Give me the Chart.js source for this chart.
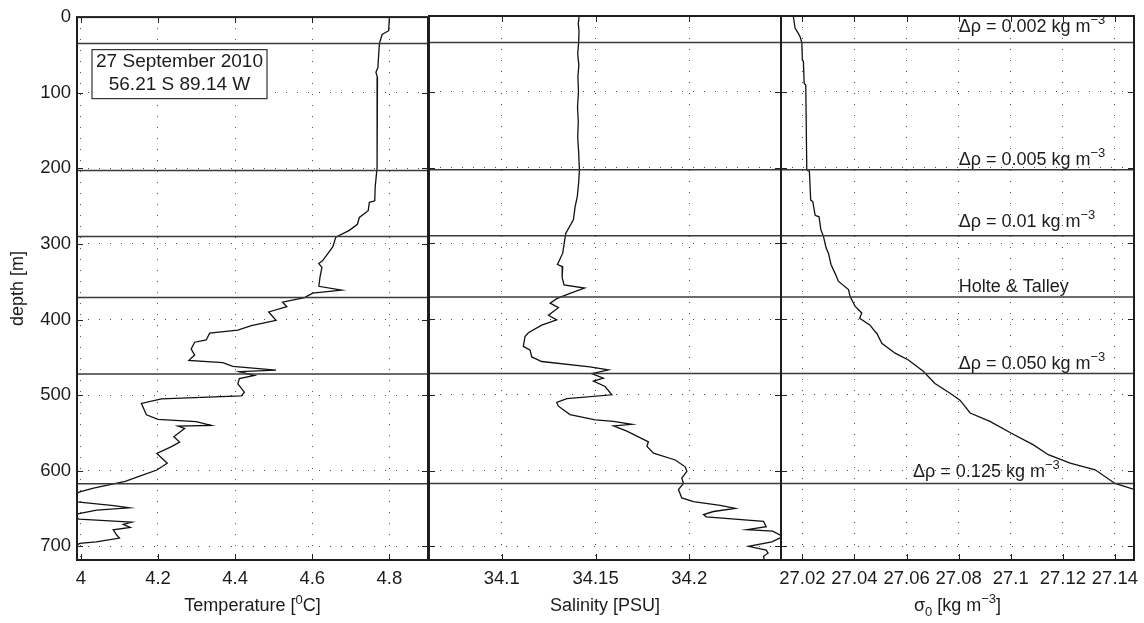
<!DOCTYPE html>
<html>
<head>
<meta charset="utf-8">
<script src="https://cdn.jsdelivr.net/npm/chart.js@4.4.1/dist/chart.umd.min.js"></script>
<style>
  html, body { margin: 0; padding: 0; background: #fff; }
  #wrap { position: relative; width: 1144px; height: 623px; overflow: hidden; }
  canvas { position: absolute; top: 0; }
</style>
</head>
<body>
<div id="wrap">
  <canvas id="tempChart" width="430" height="623" style="left:0px"></canvas>
  <canvas id="salChart" width="384" height="623" style="left:413px"></canvas>
  <canvas id="sigmaChart" width="407" height="623" style="left:757px"></canvas>
</div>
<script>
// ---- data ----
const depthTicks = [0, 100, 200, 300, 400, 500, 600, 700];
const tempTicks = [4, 4.2, 4.4, 4.6, 4.8];
const salTicks = [34.1, 34.15, 34.2];
const sigmaTicks = [27.02, 27.04, 27.06, 27.08, 27.1, 27.12, 27.14];

const tempDepth = [0, 18, 23, 35, 67, 73, 80, 99, 155, 199, 225, 243, 245, 256, 265, 274, 282, 291, 304, 322,
  326, 331, 344, 356, 361, 365, 371, 377, 383, 390, 401, 408, 414, 418, 427, 430, 439, 447, 454, 457,
  462, 467, 469, 474, 478, 485, 496, 501, 505, 511, 518, 526, 532, 535, 540, 541, 544, 555, 562, 568,
  577, 590, 599, 606, 614, 623, 628, 634, 641, 646, 649, 652, 657, 660, 664, 668, 671, 675, 678, 685,
  689, 694, 696, 705, 718];
const tempValues = [4.800, 4.798, 4.781, 4.774, 4.770, 4.765, 4.769, 4.768, 4.768, 4.768, 4.763, 4.762, 4.748, 4.745, 4.722, 4.717, 4.696, 4.661, 4.653, 4.627,
  4.617, 4.625, 4.620, 4.617, 4.676, 4.601, 4.580, 4.523, 4.534, 4.487, 4.506, 4.442, 4.407, 4.334, 4.325, 4.295, 4.286, 4.295, 4.280, 4.368,
  4.394, 4.506, 4.411, 4.450, 4.411, 4.407, 4.424, 4.416, 4.209, 4.157, 4.163, 4.170, 4.200, 4.299, 4.338, 4.252, 4.269, 4.241, 4.256, 4.235,
  4.197, 4.224, 4.197, 4.158, 4.115, 4.033, 3.997, 3.975, 3.990, 4.085, 4.126, 4.041, 3.992, 3.980, 3.995, 4.132, 4.110, 4.128, 4.084, 4.093,
  4.100, 4.040, 3.997, 3.970, 3.960];

const salDepth = [0, 10, 20, 35, 50, 65, 80, 100, 120, 140, 160, 180, 203, 220, 238, 252, 269, 287, 300, 313,
  328, 331, 345, 355, 359, 366, 373, 379, 385, 395, 401, 408, 418, 423, 436, 441, 450, 456, 463, 467,
  472, 478, 482, 489, 500, 505, 510, 515, 526, 533, 535, 539, 541, 548, 562, 568, 577, 586, 595, 601,
  610, 617, 625, 636, 641, 646, 650, 654, 658, 661, 667, 674, 678, 680, 687, 694, 700, 705, 709, 713, 718];
const salValues = [34.1413, 34.1408, 34.1412, 34.1410, 34.1405, 34.1411, 34.1406, 34.1409, 34.1404, 34.1408, 34.1405, 34.1410, 34.1414, 34.1410, 34.1403, 34.1391, 34.1382, 34.1341, 34.1333, 34.1325,
  34.1297, 34.1325, 34.1322, 34.1332, 34.1441, 34.1364, 34.1293, 34.1258, 34.1302, 34.1249, 34.1293, 34.1213, 34.1142, 34.1124, 34.1115, 34.1151, 34.1160, 34.1213, 34.1470, 34.1569,
  34.1480, 34.1542, 34.1489, 34.1551, 34.1587, 34.1347, 34.1293, 34.1302, 34.1364, 34.1498, 34.1596, 34.1694, 34.1596, 34.1667, 34.1782, 34.1774, 34.1809, 34.1925, 34.1978, 34.1987,
  34.1960, 34.1969, 34.1942, 34.1960, 34.2022, 34.2165, 34.2245, 34.2129, 34.2076, 34.2090, 34.2396, 34.2410, 34.2307, 34.2445, 34.2500, 34.2440, 34.2316, 34.2410, 34.2420, 34.2396, 34.2400];

const sigmaDepth = [0, 16, 21, 27, 35, 58, 60, 89, 91, 203, 205, 243, 245, 263, 265, 282, 291, 306, 313, 328,
  340, 350, 361, 370, 383, 392, 399, 408, 414, 419, 432, 445, 454, 469, 485, 498, 507, 524, 535, 551,
  566, 579, 590, 599, 617, 625, 640];
const sigmaValues = [27.0165, 27.0172, 27.0181, 27.0191, 27.0198, 27.0200, 27.0204, 27.0207, 27.0213, 27.0217, 27.0227, 27.0232, 27.0240, 27.0249, 27.0264, 27.0271, 27.0281, 27.0291, 27.0300, 27.0310,
  27.0326, 27.0338, 27.0377, 27.0383, 27.0402, 27.0428, 27.0420, 27.0460, 27.0473, 27.0486, 27.0505, 27.0556, 27.0607, 27.0664, 27.0709, 27.0767, 27.0805, 27.0844, 27.0920, 27.1004,
  27.1087, 27.1144, 27.1228, 27.1324, 27.1400, 27.1475, 27.1560];

// mixed layer depths from the different criteria
const layerDepths = [35, 203, 290, 371, 472, 617];
const layerNames = ['Δρ = 0.002 kg m', 'Δρ = 0.005 kg m', 'Δρ = 0.01 kg m', 'Holte & Talley', 'Δρ = 0.050 kg m', 'Δρ = 0.125 kg m'];
const layerUnitsSup = ['−3', '−3', '−3', '', '−3', '−3'];

const stationDate = '27 September 2010';
const stationPos = '56.21 S 89.14 W';

// ---- styling ----
const FONT = '"Liberation Sans", Arial, Helvetica, sans-serif';
const TEXT = '#1c1c1c';
const labelX = [27.08, 27.08, 27.08, 27.08, 27.08, 27.0625];  // sigma-axis x for the labels
const labelDy = [-11, -5, -9, -5, -5, -6];                  // baseline offset above each line

function richText(ctx, parts, x, y, align) {
  let total = 0;
  const widths = parts.map(p => {
    ctx.font = (p.size || 18) + 'px ' + FONT;
    const w = ctx.measureText(p.t).width;
    total += w;
    return w;
  });
  let cx = align === 'center' ? x - total / 2 : (align === 'right' ? x - total : x);
  ctx.textAlign = 'left';
  ctx.textBaseline = 'alphabetic';
  ctx.fillStyle = TEXT;
  parts.forEach((p, i) => {
    ctx.font = (p.size || 18) + 'px ' + FONT;
    ctx.fillText(p.t, cx, y + (p.dy || 0));
    cx += widths[i];
  });
}

const decor = {
  tempChart: {
    title: [{ t: 'Temperature [' }, { t: '0', size: 13, dy: -7 }, { t: 'C]' }],
    yTitle: 'depth [m]',
    box: true
  },
  salChart: {
    title: [{ t: 'Salinity [PSU]' }]
  },
  sigmaChart: {
    title: [{ t: 'σ' }, { t: '0', size: 13, dy: 5 }, { t: ' [kg m' }, { t: '−3', size: 13, dy: -8 }, { t: ']' }],
    labels: true
  }
};

const profileDecor = {
  id: 'profileDecor',
  afterDatasetsDraw(chart) {
    const { ctx, chartArea: a, scales } = chart;
    const x = scales.x, y = scales.y;
    const d = decor[chart.canvas.id];
    ctx.save();

    // horizontal mixed layer lines
    ctx.strokeStyle = '#3a3a3a';
    ctx.lineWidth = 1.5;
    layerDepths.forEach(v => {
      const py = y.getPixelForValue(v);
      ctx.beginPath();
      ctx.moveTo(a.left, py);
      ctx.lineTo(a.right, py);
      ctx.stroke();
    });

    // inward tick marks (both sides)
    ctx.strokeStyle = '#222';
    ctx.lineWidth = 1;
    y.ticks.forEach(t => {
      const py = Math.round(y.getPixelForValue(t.value)) + 0.5;
      ctx.beginPath();
      ctx.moveTo(a.left, py); ctx.lineTo(a.left + 6, py);
      ctx.moveTo(a.right, py); ctx.lineTo(a.right - 6, py);
      ctx.stroke();
    });
    x.ticks.forEach(t => {
      const px = Math.round(x.getPixelForValue(t.value)) + 0.5;
      ctx.beginPath();
      ctx.moveTo(px, a.bottom); ctx.lineTo(px, a.bottom - 6);
      ctx.moveTo(px, a.top); ctx.lineTo(px, a.top + 6);
      ctx.stroke();
    });

    // frame
    ctx.strokeStyle = '#1e1e1e';
    ctx.lineWidth = 2;
    ctx.strokeRect(a.left, a.top, a.right - a.left, a.bottom - a.top);

    // station box
    if (d.box) {
      const bx = a.left + 15, by = a.top + 32.5, bw = 175, bh = 49;
      ctx.fillStyle = '#fff';
      ctx.fillRect(bx, by, bw, bh);
      ctx.strokeStyle = '#333';
      ctx.lineWidth = 1.2;
      ctx.strokeRect(bx, by, bw, bh);
      richText(ctx, [{ t: stationDate, size: 19 }], bx + bw / 2, by + 17.5, 'center');
      richText(ctx, [{ t: stationPos, size: 19 }], bx + bw / 2, by + 40, 'center');
    }

    // criterion labels
    if (d.labels) {
      layerDepths.forEach((v, i) => {
        const parts = [{ t: layerNames[i] }];
        if (layerUnitsSup[i]) parts.push({ t: layerUnitsSup[i], size: 13, dy: -8 });
        richText(ctx, parts, x.getPixelForValue(labelX[i]), y.getPixelForValue(v) + labelDy[i], 'left');
      });
    }

    // axis titles
    richText(ctx, d.title, (a.left + a.right) / 2, 611, 'center');
    if (d.yTitle) {
      ctx.save();
      ctx.translate(23, (a.top + a.bottom) / 2);
      ctx.rotate(-Math.PI / 2);
      richText(ctx, [{ t: d.yTitle }], 0, 0, 'center');
      ctx.restore();
    }
    ctx.restore();
  }
};

function makeProfile(id, depths, values, xMin, xMax, xTicks, showY, padding) {
  const points = depths.map((dep, i) => ({ x: values[i], y: dep }));
  const gridStyle = { color: '#4a4a4a', lineWidth: 1, drawTicks: false, tickLength: 0 };
  return new Chart(document.getElementById(id), {
    type: 'scatter',
    data: {
      datasets: [{
        data: points,
        showLine: true,
        borderColor: '#111',
        borderWidth: 1.3,
        pointRadius: 0,
        tension: 0
      }]
    },
    options: {
      responsive: false,
      animation: false,
      events: [],
      layout: { padding: padding },
      plugins: { legend: { display: false }, tooltip: { enabled: false } },
      scales: {
        x: {
          type: 'linear',
          min: xMin,
          max: xMax,
          grid: gridStyle,
          border: { display: false, dash: [1, 10] },
          afterBuildTicks: s => { s.ticks = xTicks.map(v => ({ value: v })); },
          afterFit: s => { s.height = 63; },
          ticks: {
            padding: 8,
            color: TEXT,
            font: { family: FONT, size: 18.5 },
            maxRotation: 0,
            autoSkip: false,
            callback: v => String(v)
          }
        },
        y: {
          type: 'linear',
          reverse: true,
          min: 0,
          max: 718,
          grid: gridStyle,
          border: { display: false, dash: [1, 10] },
          afterBuildTicks: s => { s.ticks = depthTicks.map(v => ({ value: v })); },
          afterFit: s => { s.width = showY ? 77 : 0; },
          ticks: {
            display: showY,
            padding: 6,
            color: TEXT,
            font: { family: FONT, size: 18.5 },
            autoSkip: false,
            callback: v => String(v)
          }
        }
      }
    },
    plugins: [profileDecor]
  });
}

makeProfile('tempChart', tempDepth, tempValues, 3.99, 4.9, tempTicks, true,
  { top: 16, left: 0, right: 2, bottom: 0 });
makeProfile('salChart', salDepth, salValues, 34.0612, 34.2489, salTicks, false,
  { top: 16, left: 16, right: 16, bottom: 0 });
makeProfile('sigmaChart', sigmaDepth, sigmaValues, 27.0118, 27.1473, sigmaTicks, false,
  { top: 16, left: 24, right: 30, bottom: 0 });
</script>
</body>
</html>
